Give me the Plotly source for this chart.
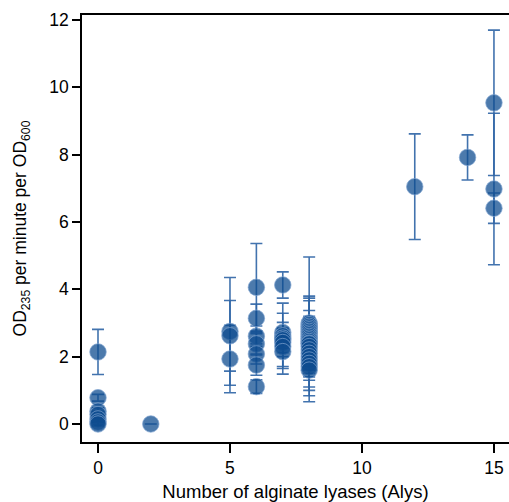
import plotly.graph_objects as go

# Number of alginate lyases per strain
x_vals = [0, 0, 0, 0, 0, 0, 0,
          2,
          5, 5, 5,
          6, 6, 6, 6, 6, 6, 6,
          7, 7, 7, 7, 7, 7, 7, 7,
          8, 8, 8, 8, 8, 8, 8, 8, 8, 8, 8, 8, 8, 8, 8, 8, 8, 8, 8, 8, 8, 8,
          12,
          14,
          15, 15, 15]
# OD235 per minute per OD600
y_vals = [2.14, 0.78, 0.38, 0.28, 0.15, 0.06, 0.0,
          0.0,
          2.75, 2.62, 1.93,
          4.06, 3.14, 2.61, 2.38, 2.08, 1.75, 1.11,
          4.13, 2.72, 2.62, 2.55, 2.5, 2.42, 2.3, 2.15,
          3.0, 2.95, 2.9, 2.85, 2.8, 2.75, 2.7, 2.65, 2.6, 2.55, 2.5, 2.45,
          2.4, 2.38, 2.3, 2.2, 2.1, 2.0, 1.9, 1.8, 1.7, 1.6,
          7.05,
          7.92,
          9.54, 6.98, 6.41]
# error (standard deviation); None = no visible bar
err_vals = [0.67, 0.1, 0.1, 0.1, 0.1, 0.1, 0.05,
            None,
            1.6, 1.05, 1.0,
            1.3, 0.42, 0.3, 0.3, 0.3, 0.3, 0.2,
            0.39, 0.3, 0.97, 0.3, 0.79, 0.3, 0.3, 0.67,
            0.2, 0.2, 2.06, 0.3, 0.3, 0.3, 0.3, 0.3, 0.3, 0.3, 0.87, 0.3,
            1.4, 1.28, 0.3, 1.54, 0.3, 0.3, 0.3, 0.3, 0.3, 0.3,
            1.57,
            0.67,
            2.16, 2.25, 0.45]

x_ticks = [0, 5, 10, 15]
y_ticks = [0, 2, 4, 6, 8, 10, 12]

fig = go.Figure()
fig.add_trace(go.Scatter(
    x=x_vals, y=y_vals, mode="markers",
    marker=dict(size=16.5, color="rgba(13,75,143,0.74)",
                line=dict(width=1, color="rgba(130,165,210,0.7)")),
    error_y=dict(type="data", array=err_vals, visible=True,
                 color="rgba(45,100,165,0.9)", thickness=1.6, width=6),
    showlegend=False,
))

font = "Liberation Sans, Arial, Helvetica, sans-serif"
fig.update_layout(
    width=509, height=502,
    margin=dict(l=82, r=0, t=15, b=60),
    paper_bgcolor="white", plot_bgcolor="white",
    font=dict(family=font, size=17, color="black"),
    xaxis=dict(range=[-0.606, 15.57], tickvals=x_ticks, showgrid=False, zeroline=False,
               showline=True, linecolor="black", linewidth=1.5, mirror=True,
               ticks="outside", ticklen=9, tickwidth=1.5, tickcolor="black",
               tickfont=dict(size=17.5),
               title=dict(text="Number of alginate lyases (Alys)", font=dict(size=18.5), standoff=9)),
    yaxis=dict(range=[-0.535, 12.15], tickvals=y_ticks, showgrid=False, zeroline=False,
               showline=True, linecolor="black", linewidth=1.5, mirror=False,
               ticks="outside", ticklen=8, tickwidth=1.5, tickcolor="black",
               tickfont=dict(size=17.5),
               title=dict(text="OD<sub>235</sub> per minute per OD<sub>600</sub>",
                          font=dict(size=17.5), standoff=18)),
)

fig.write_html("out.html", config={"displayModeBar": False})

# remove default page margin so the figure sits at the window's top-left corner
with open("out.html", "r", encoding="utf-8") as f:
    html = f.read()
html = html.replace("<head>", "<head><style>html,body{margin:0;padding:0;overflow:hidden;}</style>", 1)
with open("out.html", "w", encoding="utf-8") as f:
    f.write(html)
